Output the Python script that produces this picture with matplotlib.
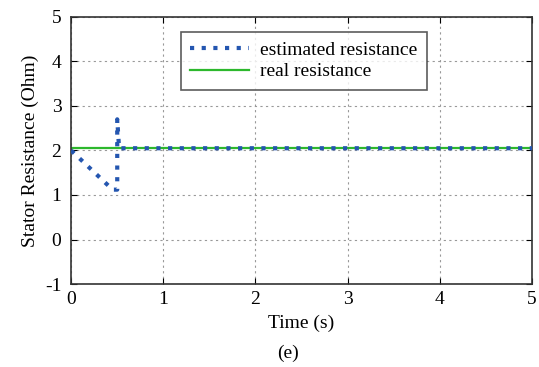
import matplotlib
matplotlib.use("Agg")
import matplotlib.pyplot as plt
import numpy as np

plt.rcParams['font.family'] = ['Liberation Serif', 'DejaVu Serif']
plt.rcParams['axes.unicode_minus'] = False

# estimated resistance key points
t_est = [0.0, 0.45, 0.46, 0.5, 0.5, 0.52, 5.0]
r_est = [2.0, 1.12, 1.12, 1.12, 2.7, 2.05, 2.05]
# real resistance
t_real = [0.0, 5.0]
r_real = [2.05, 2.05]

xticks = [0, 1, 2, 3, 4, 5]
yticks = [-1, 0, 1, 2, 3, 4, 5]

fig = plt.figure(figsize=(5.39, 3.67), dpi=100)
ax = fig.add_axes([0.132, 0.226, 0.855, 0.728])

ax.plot(t_real, r_real, color='#2db82d', lw=1.6, label='real resistance', zorder=2)
ax.plot(t_est, r_est, color='#2456b0', lw=3, linestyle=(0, (1, 1.8)), label='estimated resistance', zorder=3)

ax.set_xlim(0, 5)
ax.set_ylim(-1, 5)
ax.set_xticks(xticks)
ax.set_yticks(yticks)
ax.tick_params(direction='in', labelsize=14, length=4, top=True, right=True)
ax.tick_params(axis='x', pad=5)
ax.tick_params(axis='y', pad=7)
ax.grid(True, linestyle=(0, (2, 3)), color='#999999', lw=0.8)
for s in ax.spines.values():
    s.set_linewidth(1.2)
    s.set_color('#333333')

ax.set_xlabel('Time (s)', fontsize=14, labelpad=5)
ax.set_ylabel('Stator Resistance (Ohm)', fontsize=14, labelpad=4)

h, l = ax.get_legend_handles_labels()
leg = ax.legend([h[1], h[0]], [l[1], l[0]], loc='upper center', bbox_to_anchor=(0.505, 0.945),
                fontsize=14, frameon=True, fancybox=False, edgecolor='#333333',
                handlelength=3.0, borderpad=0.5, labelspacing=0.2, handletextpad=0.6,
                borderaxespad=0)
leg.get_frame().set_linewidth(1.2)

fig.text(0.535, 0.025, '(e)', ha='center', fontsize=14)

fig.savefig('out.png', dpi=100)
